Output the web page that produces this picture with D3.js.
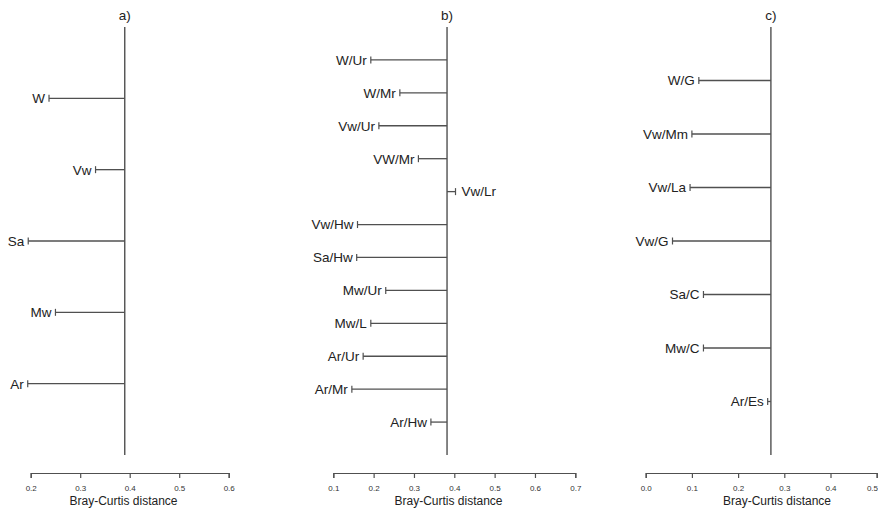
<!DOCTYPE html>
<html>
<head>
<meta charset="utf-8">
<script src="https://cdn.jsdelivr.net/npm/d3@7"></script>
<style>
  body { margin: 0; background: #fff; }
  svg { font-family: "Liberation Sans", Arial, sans-serif; }
</style>
</head>
<body>
<div id="chart"></div>
<script>
var width = 878;
var height = 510;

// panel a
var labelsA = ["W", "Vw", "Sa", "Mw", "Ar"];
var valuesA = [0.237, 0.331, 0.195, 0.250, 0.194];
var nodeA = 0.39;
var ticksA = [0.2, 0.3, 0.4, 0.5, 0.6];

// panel b
var labelsB = ["W/Ur", "W/Mr", "Vw/Ur", "VW/Mr", "Vw/Lr", "Vw/Hw", "Sa/Hw", "Mw/Ur", "Mw/L", "Ar/Ur", "Ar/Mr", "Ar/Hw"];
var valuesB = [0.193, 0.265, 0.213, 0.311, 0.403, 0.160, 0.158, 0.230, 0.193, 0.174, 0.146, 0.342];
var nodeB = 0.382;
var ticksB = [0.1, 0.2, 0.3, 0.4, 0.5, 0.6, 0.7];

// panel c
var labelsC = ["W/G", "Vw/Mm", "Vw/La", "Vw/G", "Sa/C", "Mw/C", "Ar/Es"];
var valuesC = [0.115, 0.100, 0.096, 0.058, 0.125, 0.125, 0.264];
var nodeC = 0.271;
var ticksC = [0.0, 0.1, 0.2, 0.3, 0.4, 0.5];

var titles = ["a)", "b)", "c)"];

var panels = [
    {labels: labelsA, values: valuesA, node: nodeA, ticks: ticksA, x0: 30.7, x1: 228.7, titleX: 123.5},
    {labels: labelsB, values: valuesB, node: nodeB, ticks: ticksB, x0: 333.3, x1: 575.3, titleX: 448.5},
    {labels: labelsC, values: valuesC, node: nodeC, ticks: ticksC, x0: 645.7, x1: 876.7, titleX: 777}
];

var plotTop = 27, plotBottom = 455, axisY = 473;
var lineColor = "#505050";

var svg = d3.select("#chart")
    .append("svg")
    .attr("width", width)
    .attr("height", height);

panels.forEach(function (p, i) {
    var g = svg.append("g");
    var n = p.labels.length;

    var xScale = d3.scaleLinear()
        .domain([p.ticks[0], p.ticks[p.ticks.length - 1]])
        .range([p.x0, p.x1]);
    var yScale = d3.scaleLinear().domain([0, n + 1]).range([plotTop, plotBottom]);

    var rows = p.labels.map(function (l, k) {
        return {label: l, value: p.values[k], pos: k + 1};
    });

    // axis
    var axis = d3.axisBottom(xScale)
        .tickValues(p.ticks)
        .tickFormat(d3.format(".1f"))
        .tickSize(5)
        .tickPadding(7);
    var ax = g.append("g")
        .attr("transform", "translate(0," + axisY + ")")
        .call(axis);
    ax.select(".domain").attr("stroke", lineColor).attr("stroke-width", 1.2);
    ax.selectAll(".tick line").attr("stroke", lineColor).attr("stroke-width", 1.2);
    ax.selectAll(".tick text").attr("font-size", 8).attr("fill", "#333")
        .attr("font-family", "Liberation Sans, Arial, sans-serif");
    // keep the last label inside the page edge
    ax.selectAll(".tick text")
        .filter(function (d) { return xScale(d) + 8 > width; })
        .attr("text-anchor", "end")
        .attr("x", width - xScale(p.ticks[p.ticks.length - 1]) - 0.5);

    g.append("text")
        .attr("x", p.titleX)
        .attr("y", 505)
        .attr("text-anchor", "middle")
        .attr("font-size", 12)
        .attr("fill", "#222")
        .text("Bray-Curtis distance");

    // trunk
    g.append("line")
        .attr("x1", xScale(p.node)).attr("x2", xScale(p.node))
        .attr("y1", yScale(0)).attr("y2", yScale(n + 1))
        .attr("stroke", lineColor)
        .attr("stroke-width", 1.4);

    g.append("text")
        .attr("x", xScale(p.node))
        .attr("y", 20)
        .attr("text-anchor", "middle")
        .attr("font-size", 13.5)
        .attr("fill", "#222")
        .text(titles[i]);

    // branches
    var br = g.selectAll(".branch").data(rows).enter().append("g").attr("class", "branch");

    br.append("line")
        .attr("x1", xScale(p.node))
        .attr("x2", function (d) { return xScale(d.value); })
        .attr("y1", function (d) { return yScale(d.pos); })
        .attr("y2", function (d) { return yScale(d.pos); })
        .attr("stroke", lineColor)
        .attr("stroke-width", 1.3);

    br.append("line")
        .attr("x1", function (d) { return xScale(d.value); })
        .attr("x2", function (d) { return xScale(d.value); })
        .attr("y1", function (d) { return yScale(d.pos) - 3.5; })
        .attr("y2", function (d) { return yScale(d.pos) + 3.5; })
        .attr("stroke", lineColor)
        .attr("stroke-width", 1.2);

    br.append("text")
        .attr("x", function (d) {
            var right = d.value > p.node;
            return xScale(d.value) + (right ? 6 : -4);
        })
        .attr("y", function (d) { return yScale(d.pos); })
        .attr("dy", "0.36em")
        .attr("text-anchor", function (d) { return d.value > p.node ? "start" : "end"; })
        .attr("font-size", 13.5)
        .attr("fill", "#222")
        .text(function (d) { return d.label; });
});
</script>
</body>
</html>
